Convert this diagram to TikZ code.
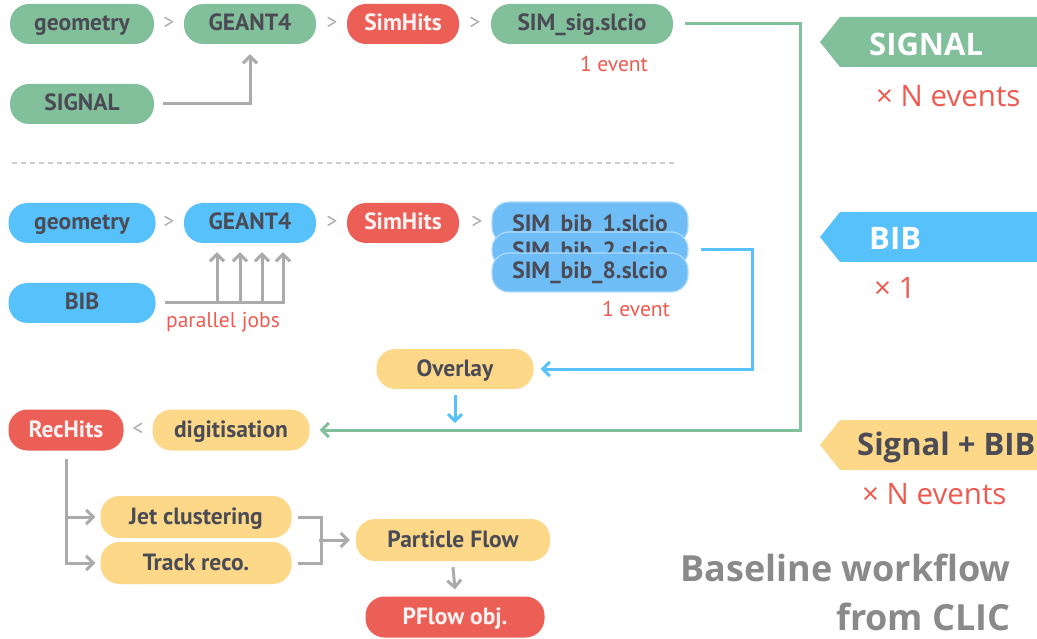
\documentclass[tikz,border=0pt]{standalone}
\usepackage{fontspec}
\setmainfont{PT Sans}
\newfontfamily\tagfont{Open Sans}
\usetikzlibrary{arrows.meta}
\definecolor{cgreen}{HTML}{82BF9B}
\definecolor{cblue}{HTML}{57C1FC}
\definecolor{cbluest}{HTML}{6EBDF6}
\definecolor{cred}{HTML}{EC5F57}
\definecolor{cyellow}{HTML}{FDD888}
\definecolor{ctext}{HTML}{4B4B55}
\definecolor{cgray}{HTML}{ABABAB}
\definecolor{cnote}{HTML}{EE5A50}
\definecolor{ctitle}{HTML}{8A8A8A}
\tikzset{
  pill/.style={rectangle, rounded corners=19pt, minimum height=40pt, inner sep=0pt,
    text=ctext, font=\bfseries\fontsize{23.5}{26}\selectfont, text height=17pt, text depth=3pt},
  redpill/.style={pill, fill=cred, text=white!92!cred},
  stackbox/.style={rectangle, rounded corners=17pt, fill=cbluest, draw=white!45!cbluest, line width=1.2pt, minimum width=196pt, inner sep=0pt},
  stacktext/.style={inner sep=0pt, text=ctext, font=\bfseries\fontsize{23.5}{26}\selectfont, text height=17pt, text depth=3pt},
  sepmark/.style={inner sep=0pt, text=cgray, font=\fontsize{22}{24}\selectfont},
  note/.style={inner sep=0pt, text=cnote, font=\fontsize{21.5}{24}\selectfont},
  gline/.style={draw=cgray, line width=3pt},
  garrow/.style={gline, -{Straight Barb[length=7pt,width=14pt,line width=3pt]}},
  blarrow/.style={draw=cblue, line width=3pt, -{Straight Barb[length=7pt,width=14pt,line width=3pt]}},
  grarrow/.style={draw=cgreen, line width=3pt, -{Straight Barb[length=7pt,width=14pt,line width=3pt]}},
  tagtext/.style={inner sep=0pt, anchor=west, font=\tagfont\bfseries\fontsize{31}{34}\selectfont},
  times/.style={inner sep=0pt, anchor=west, text=cnote, font=\tagfont\fontsize{29.5}{32}\selectfont},
  title/.style={inner sep=0pt, anchor=east, text=ctitle, font=\tagfont\bfseries\fontsize{36}{40}\selectfont},
}
\begin{document}
\begin{tikzpicture}[x=1pt,y=-1pt]
\useasboundingbox (0,0) rectangle (1037,639);

% ---------- SIGNAL chain ----------
\node[pill, fill=cgreen, minimum width=144pt] (geoS) at (82,24) {geometry};
\node[sepmark] (sepS1) at (169,23) {>};
\node[pill, fill=cgreen, minimum width=132pt] (g4S) at (250,24) {GEANT4};
\node[sepmark] (sepS2) at (332,23) {>};
\node[redpill, minimum width=112pt] (simS) at (403,24) {SimHits};
\node[sepmark] (sepS3) at (475,23) {>};
\node[pill, fill=cgreen, minimum width=182pt] (sigfile) at (582,24) {SIM\_sig.slcio};
\node[note] (evS) at (614,64) {1 event};
\node[pill, fill=cgreen, minimum width=144pt] (sigin) at (82,104) {SIGNAL};
\draw[garrow] ([xshift=9pt]sigin.east) -| ([yshift=-10pt]g4S.south);

% divider
\draw[cgray!60, line width=1.3pt, dash pattern=on 5pt off 4pt] (12,163) -- (676,163);

% ---------- BIB chain ----------
\node[pill, fill=cblue, minimum width=147pt] (geoB) at (82,223) {geometry};
\node[sepmark] (sepB1) at (169,222) {>};
\node[pill, fill=cblue, minimum width=132pt] (g4B) at (250,223) {GEANT4};
\node[sepmark] (sepB2) at (332,222) {>};
\node[redpill, minimum width=112pt] (simB) at (403,223) {SimHits};
\node[sepmark] (sepB3) at (477,222) {>};
\node[stackbox, minimum height=42pt] (bib1) at (590,223) {};
\node[stacktext, text depth=0pt] (bib1t) at (590,223.5) {SIM\_bib\_1.slcio};
\node[stackbox, minimum height=36pt] (bib2) at (590,250) {};
\node[stacktext, text depth=0pt] (bib2t) at (590,250.5) {SIM\_bib\_2.slcio};
\node[stackbox, minimum height=39pt] (bib8) at (590,272.5) {};
\node[stacktext] (bib8t) at (590,271.5) {SIM\_bib\_8.slcio};
\node[note] (evB) at (636,309) {1 event};

\node[pill, fill=cblue, minimum width=147pt] (bibin) at (82,303) {BIB};
\draw[gline] ([xshift=9pt]bibin.east) -- (284.5,303);
\foreach \x in {217,240,262,283}
  \draw[garrow] (\x,304.5) -- ([yshift=-9pt]\x,0 |- g4B.south);
\node[note] (par) at (223,322) {parallel jobs};

% ---------- Overlay / digitisation ----------
\node[pill, fill=cyellow, minimum width=157pt] (ovl) at (455,369) {Overlay};
\draw[blarrow] ([xshift=12pt]bib2.east) -- ++(52,0) |- ([xshift=7pt]ovl.east);
\node[redpill, minimum width=115pt, minimum height=41pt] (rech) at (66,430) {RecHits};
\node[sepmark] (sepR) at (138,429) {<};
\node[pill, fill=cyellow, minimum width=157pt, minimum height=41pt] (digi) at (231,430) {digitisation};
\draw[grarrow] ([xshift=12pt]sigfile.east) -- ++(115,0) |- ([xshift=10pt]digi.east);
\draw[blarrow] ([yshift=-6pt]ovl.south) -- ++(0,28);

% ---------- reconstruction ----------
\node[pill, fill=cyellow, minimum width=191pt, minimum height=42pt] (jet) at (196,517) {Jet clustering};
\node[pill, fill=cyellow, minimum width=191pt, minimum height=42pt] (trk) at (196,563) {Track reco.};
\draw[garrow] ([yshift=-8pt]rech.south) |- ([xshift=-5pt]jet.west);
\draw[garrow] ([yshift=-8pt]rech.south) |- ([xshift=-5pt]trk.west);
\node[pill, fill=cyellow, minimum width=194pt, minimum height=42pt] (pf) at (453,540) {Particle Flow};
\draw[gline] ([xshift=6pt]jet.east) -- ++(24,0) |- ([xshift=6pt]trk.east);
\coordinate (brk) at (319,540);
\draw[garrow] (brk) -- ([xshift=-6pt]pf.west);
\node[redpill, minimum width=179pt, minimum height=41pt] (pfo) at (455,617) {PFlow obj.};
\draw[garrow] ([yshift=-6pt]pf.south) -- ([yshift=7pt]pfo.north);

% ---------- right-hand tags ----------
\fill[cgreen] (820,42) -- (840,17) -- (1037,17) -- (1037,67) -- (840,67) -- cycle;
\node[tagtext, text=white] (tSig) at (869,44) {SIGNAL};
\node[times] (xSig) at (876,96) {× N events};
\fill[cblue] (820,237) -- (840,212) -- (1037,212) -- (1037,262) -- (840,262) -- cycle;
\node[tagtext, text=white] (tBib) at (869,238) {BIB};
\node[times] (xBib) at (874,288) {× 1};
\fill[cyellow] (820,445) -- (840,420) -- (1037,420) -- (1037,470) -- (840,470) -- cycle;
\node[tagtext, text=ctext] (tSB) at (857,447) {Signal + BIB};
\node[times] (xSB) at (862,494) {× N events};

\node[title] (t1) at (1011,568) {Baseline workflow};
\node[title] (t2) at (1011,617) {from CLIC};
\end{tikzpicture}
\end{document}
